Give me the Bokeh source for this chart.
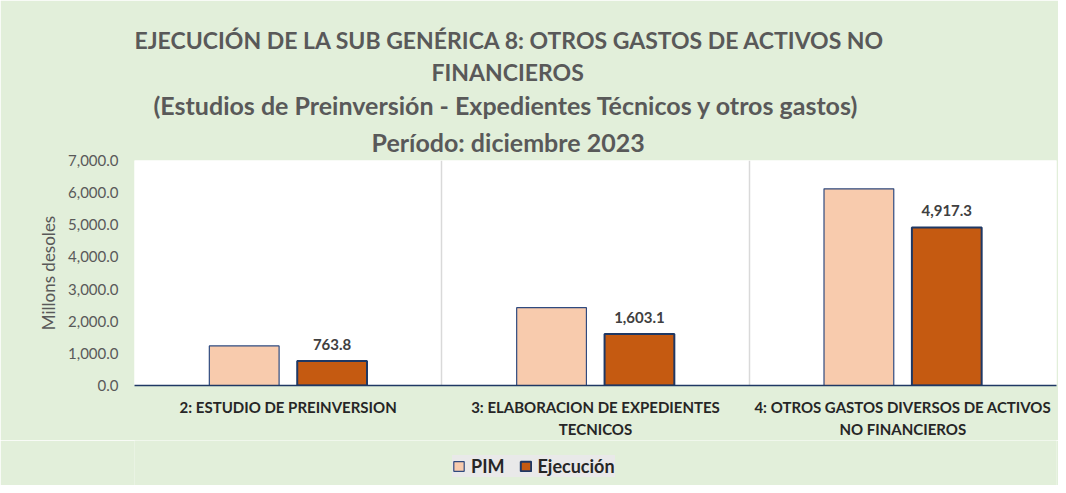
from bokeh.plotting import figure
from bokeh.layouts import column
from bokeh.models import (ColumnDataSource, LabelSet, Legend, LegendItem, Title,
                          NumeralTickFormatter, FixedTicker, LinearAxis)
from bokeh.core.properties import value
from bokeh.transform import dodge
from bokeh.embed import file_html
from bokeh.resources import INLINE

categories = ["2: ESTUDIO DE PREINVERSION",
              "3: ELABORACION DE EXPEDIENTES TECNICOS",
              "4: OTROS GASTOS DIVERSOS DE ACTIVOS NO FINANCIEROS"]
label_line1 = ["2: ESTUDIO DE PREINVERSION",
               "3: ELABORACION DE EXPEDIENTES",
               "4: OTROS GASTOS DIVERSOS DE ACTIVOS"]
label_line2 = ["", "TECNICOS", "NO FINANCIEROS"]
pim = [1230.0, 2420.0, 6120.0]
ejecucion = [763.8, 1603.1, 4917.3]
ejecucion_labels = ["763.8", "1,603.1", "4,917.3"]
y_ticks = [0, 1000, 2000, 3000, 4000, 5000, 6000, 7000]
series_names = ["PIM", "Ejecución"]
title_lines = ["EJECUCIÓN DE LA SUB GENÉRICA 8: OTROS GASTOS DE ACTIVOS NO",
               "FINANCIEROS",
               "(Estudios de Preinversión - Expedientes Técnicos y otros gastos)",
               "Período:  diciembre 2023"]

FONT = "Lato"
BG = "#E2EFDA"
W = 1058
MAIN_H = 440
LEG_H = 45

x_pos = [i + 0.5 for i in range(len(categories))]
sep_pos = [i for i in range(1, len(categories))]

src = ColumnDataSource(dict(x=x_pos, pim=pim, eje=ejecucion, lab=ejecucion_labels))
PIM_STYLE = dict(fill_color="#F8CBAD", line_color="#2F4A7F", line_width=1.2)
EJE_STYLE = dict(fill_color="#C55A11", line_color="#1F3864", line_width=2)

p = figure(x_range=(0, len(categories)), y_range=(0, 7000), width=W, height=MAIN_H,
           output_backend="svg", toolbar_location=None,
           min_border_left=134, min_border_right=2, min_border_top=160, min_border_bottom=55)
p.border_fill_color = BG
p.background_fill_color = "#FFFFFF"
p.outline_line_color = None
p.ygrid.grid_line_color = None
p.xgrid.ticker = FixedTicker(ticks=sep_pos)
p.xgrid.grid_line_color = "#D9D9D9"
p.xgrid.grid_line_width = 1.5

p.vbar(x=dodge("x", -0.143), top="pim", width=0.227, source=src, **PIM_STYLE)
p.vbar(x=dodge("x", 0.143), top="eje", width=0.227, source=src, **EJE_STYLE)

labels = LabelSet(x=dodge("x", 0.143), y="eje", text="lab", source=src,
                  y_offset=11, text_align="center", text_baseline="bottom",
                  text_font=value(FONT), text_font_style="bold", text_font_size="15px",
                  text_color="#404040")
p.add_layout(labels)

# y axis
p.yaxis.ticker = FixedTicker(ticks=y_ticks)
p.yaxis.formatter = NumeralTickFormatter(format="0,0.0")
p.yaxis.axis_line_color = None
p.yaxis.major_tick_line_color = None
p.yaxis.minor_tick_line_color = None
p.yaxis.major_label_standoff = 10
p.yaxis.major_label_text_font = FONT
p.yaxis.major_label_text_font_size = "15px"
p.yaxis.major_label_text_color = "#595959"
p.yaxis.axis_label = "Millons desoles"
p.yaxis.axis_label_text_font = FONT
p.yaxis.axis_label_text_font_size = "17px"
p.yaxis.axis_label_text_font_style = "normal"
p.yaxis.axis_label_text_color = "#595959"
p.yaxis.axis_label_standoff = 6

# x axis: first line of category labels
xa = p.xaxis[0]
xa.ticker = FixedTicker(ticks=x_pos)
xa.axis_line_color = "#1F3864"
xa.axis_line_width = 1.5
xa.major_tick_line_color = None
xa.minor_tick_line_color = None
xa.major_label_standoff = 6
xa.major_label_text_font = FONT
xa.major_label_text_font_style = "bold"
xa.major_label_text_font_size = "15px"
xa.major_label_text_color = "#262626"
xa.major_label_overrides = {x: s for x, s in zip(x_pos, label_line1)}

# second line of category labels
xa2 = LinearAxis(ticker=FixedTicker(ticks=x_pos), axis_line_color=None,
                 major_tick_line_color=None, minor_tick_line_color=None,
                 major_label_standoff=-5,
                 major_label_text_font=FONT, major_label_text_font_style="bold",
                 major_label_text_font_size="15px", major_label_text_color="#262626",
                 major_label_overrides={x: s for x, s in zip(x_pos, label_line2)})
p.add_layout(xa2, "below")

# title lines (added bottom-most first)
title_sizes = ["23px", "23px", "25px", "25px"]
title_offsets = [0, 297, 19, 237]
title_standoffs = [2, 2, 2, 8]
for txt, sz, off, so in reversed(list(zip(title_lines, title_sizes, title_offsets, title_standoffs))):
    p.add_layout(Title(text=txt, align="left", offset=off, standoff=so,
                       text_font=FONT, text_font_style="bold", text_font_size=sz,
                       text_color="#595959"), "above")

# ---------- legend strip ----------
lg = figure(x_range=p.x_range, y_range=(-2, -1), width=W, height=LEG_H,
            output_backend="svg", toolbar_location=None,
            min_border_left=134, min_border_right=2, min_border_top=0, min_border_bottom=0)
lg.axis.visible = False
lg.grid.visible = False
lg.outline_line_color = None
lg.background_fill_color = BG
lg.border_fill_color = BG
g1 = lg.vbar(x=dodge("x", -0.143), top="pim", width=0.227, source=src, visible=False, **PIM_STYLE)
g2 = lg.vbar(x=dodge("x", 0.143), top="eje", width=0.227, source=src, visible=False, **EJE_STYLE)

legend = Legend(items=[LegendItem(label=series_names[0], renderers=[g1]),
                       LegendItem(label=series_names[1], renderers=[g2])],
                orientation="horizontal", location=(318, 8),
                background_fill_color="#E9E9E9", background_fill_alpha=1.0,
                border_line_color=None, padding=9, spacing=14, margin=0,
                glyph_width=13, glyph_height=12, label_standoff=6,
                inactive_fill_alpha=0.0,
                label_text_font=FONT, label_text_font_style="bold",
                label_text_font_size="18px", label_text_color="#262626")
lg.add_layout(legend, "center")

layout = column(p, lg, spacing=0)
open("out.html", "w").write(file_html(layout, INLINE))
